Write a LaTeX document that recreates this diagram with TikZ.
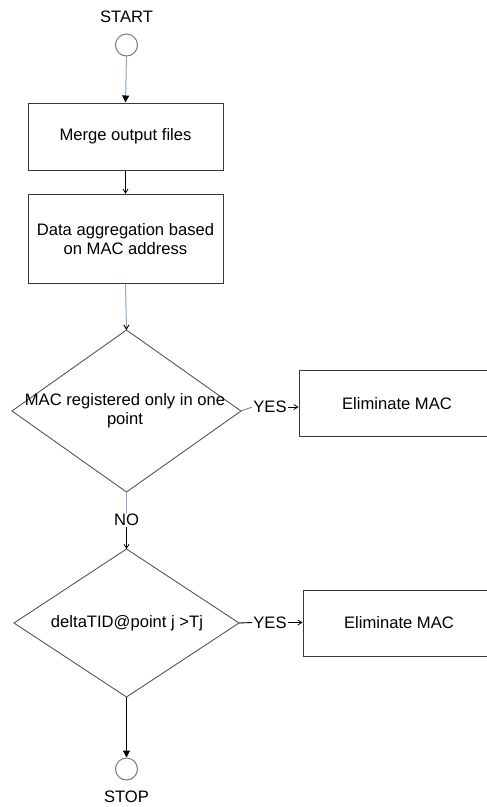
\documentclass[tikz,border=0pt]{standalone}
\usepackage{fontspec}
\setmainfont{Liberation Sans}
\usetikzlibrary{arrows.meta}
\definecolor{linkblue}{RGB}{140,168,205}
\definecolor{frame}{RGB}{55,55,55}
\definecolor{ringgrey}{RGB}{120,120,120}
\tikzset{
  every node/.style={font=\fontsize{16.6}{19}\selectfont, text=black},
  box/.style={draw=frame, line width=1pt, rectangle, inner sep=0pt, align=center},
  dia/.style={draw=frame!85, line width=0.9pt, inner sep=0pt},
  ring/.style={draw=ringgrey, line width=1pt, circle, minimum size=22pt, inner sep=0pt},
  lbl/.style={inner sep=1pt},
  txt/.style={inner sep=0pt, align=center},
  smallarrow/.style={-{Straight Barb[length=4pt,width=5pt]}, line width=0.8pt},
  bigarrow/.style={-{Triangle[length=7pt,width=7pt]}, line width=1.1pt},
}
\begin{document}
\begin{tikzpicture}[x=1pt,y=-1pt]
\useasboundingbox (0,0) rectangle (487,807);
% start / stop
\node[lbl] (start) at (126.5,17) {START};
\node[ring] (c1) at (126.5,45) {};
\node[ring] (c2) at (126.5,769) {};
\node[lbl] (stop) at (126.5,797) {STOP};
% boxes
\node[box, minimum width=195pt, minimum height=67pt] (b1) at (125.5,136.5) {Merge output files};
\node[box, minimum width=195pt, minimum height=89pt] (b2) at (125.5,238.8) {Data aggregation based\\on MAC address};
\node[box, minimum width=196pt, minimum height=66.5pt] (b3) at (397,403.7) {Eliminate MAC};
\node[box, minimum width=192pt, minimum height=66pt] (b4) at (399,623) {Eliminate MAC};
% diamonds
\coordinate (d1) at (126.5,411);
\coordinate (d1n) at (126.5,330);
\coordinate (d1e) at (241,411);
\coordinate (d1s) at (126.5,492);
\coordinate (d1w) at (12,411);
\draw[dia] (d1n) -- (d1e) -- (d1s) -- (d1w) -- cycle;
\node[txt] (t1) at (125,411) {MAC registered only in one\\point};
\coordinate (d2) at (126.5,623);
\coordinate (d2n) at (126.5,549);
\coordinate (d2e) at (239,623);
\coordinate (d2s) at (126.5,697);
\coordinate (d2w) at (14,623);
\draw[dia] (d2n) -- (d2e) -- (d2s) -- (d2w) -- cycle;
\node[txt] (t2) at (127,623) {deltaTID@point j >Tj};
% labels
\node[lbl] (yes1) at (270,407) {YES};
\node[lbl] (yes2) at (270,622.5) {YES};
\node[lbl] (no) at (126.5,520) {NO};
% connectors
\draw[linkblue, line width=1pt, arrows={-{Triangle[length=7pt,width=7pt,fill=black,color=black]}}] (c1.south) -- (b1.north);
\draw[smallarrow] (b1.south) -- (b2.north);
\draw[linkblue, line width=1pt, arrows={-{Straight Barb[length=4pt,width=5pt,color=black]}}] (b2.south) -- (d1n);
\draw[frame!60, line width=0.9pt] (d1e) -- (yes1.west);
\draw[smallarrow] (yes1.east) -- (yes1.east -| b3.west);
\draw[linkblue, line width=1pt] (d1s) -- (no.north);
\draw[smallarrow] (no.south) -- (d2n);
\draw[line width=0.9pt] (d2e) -- (yes2.west);
\draw[smallarrow] (yes2.east) -- (yes2.east -| b4.west);
\draw[bigarrow] (d2s) -- (c2.north);
\end{tikzpicture}
\end{document}
